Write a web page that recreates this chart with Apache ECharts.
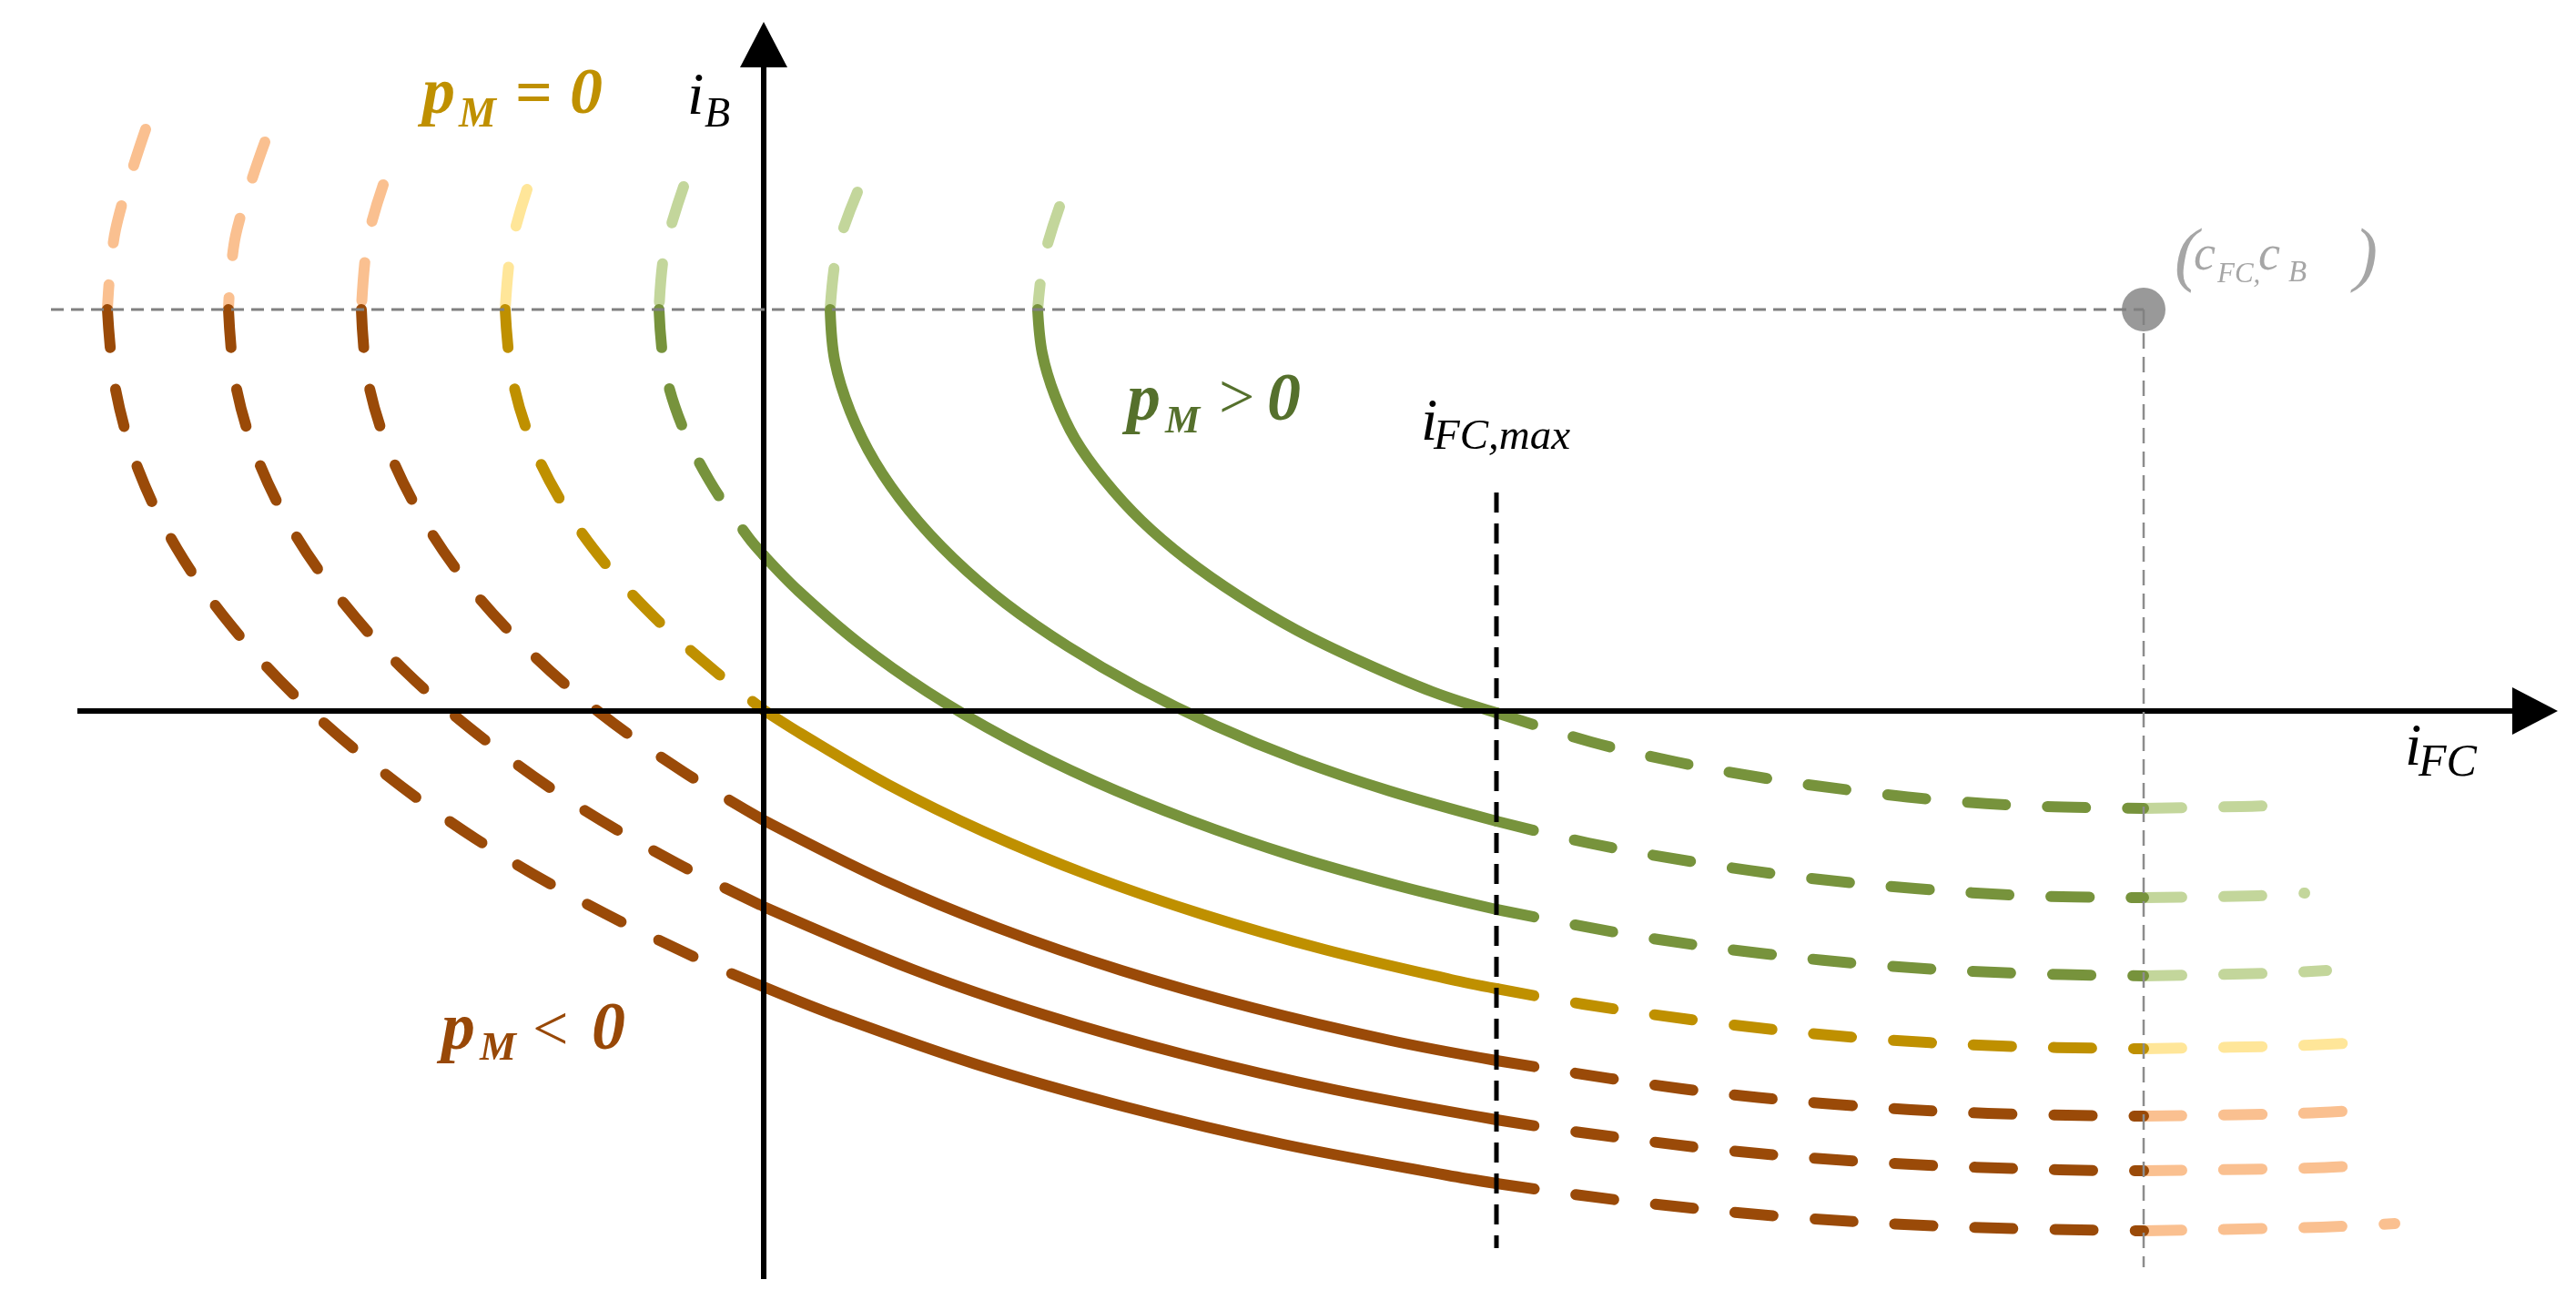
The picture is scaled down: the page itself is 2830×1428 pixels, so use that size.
<!DOCTYPE html>
<html>
<head>
<meta charset="utf-8">
<script src="https://cdn.jsdelivr.net/npm/echarts@6/dist/echarts.min.js"></script>
<style>
html,body{margin:0;padding:0;background:#ffffff;}
#chart{width:2830px;height:1428px;}
</style>
</head>
<body>
<div id="chart"></div>
<script>
// ---- values (x = i_FC, y = i_B, arbitrary units) ----
const cFC = 1516;          // centre i_FC
const cB = 441;            // centre i_B
const iFCmax = 805;        // i_FC,max
const xRange = [-839, 1991];
const yRange = [-647, 781];
const xAxisEnds = [-754, 1946];
const yAxisEnds = [-624, 732];
const refLineLeft = -783;     // left end of dashed i_B = c_B line
const refLineBottom = -611;   // bottom end of dashed i_FC = c_FC line
const iFCmaxLine = [240, -590];

// p_M > 0 curves
const curvePos3 = [[325,554],[308,498],[301,441],[306,393],[320,346],[342,299],[374,254],[415,209],[464,167],[521,127],[585,89],[657,54],[735,21],[805,-2],[909,-34],[1003,-56],[1101,-74],[1202,-88],[1305,-99],[1410,-105],[1516,-107],[1622,-105],[1655,-104]];
const curvePos2 = [[103,570],[81,508],[73,441],[78,385],[95,329],[122,274],[160,220],[208,168],[266,118],[334,71],[411,26],[496,-16],[588,-54],[688,-88],[805,-121],[906,-145],[1023,-166],[1143,-183],[1265,-195],[1390,-203],[1516,-205],[1642,-203],[1693,-200]];
const curvePos1 = [[-88,576],[-109,505],[-115,441],[-109,377],[-90,314],[-59,252],[-17,191],[0,171],[38,132],[104,75],[180,21],[267,-30],[363,-77],[468,-120],[581,-159],[701,-193],[805,-218],[958,-247],[1094,-266],[1233,-280],[1374,-288],[1516,-291],[1658,-288],[1717,-285]];
// p_M = 0 curve
const curveZero = [[-260,573],[-277,512],[-284,441],[-277,370],[-257,300],[-223,231],[-175,163],[-115,98],[-43,35],[0,1],[41,-25],[137,-81],[243,-133],[359,-181],[484,-224],[616,-262],[755,-295],[805,-305],[900,-322],[1050,-343],[1204,-359],[1359,-368],[1516,-371],[1673,-368],[1738,-365]];
// p_M < 0 curves
const curveNeg1 = [[-418,578],[-435,518],[-442,441],[-435,364],[-412,287],[-375,212],[-324,138],[-259,67],[-180,-2],[-88,-67],[0,-120],[132,-186],[257,-238],[393,-285],[537,-326],[689,-362],[805,-384],[1009,-415],[1176,-432],[1345,-442],[1516,-445],[1687,-442],[1761,-438]];
const curveNeg2 = [[-548,625],[-580,523],[-588,441],[-580,358],[-556,277],[-516,196],[-461,118],[-391,41],[-306,-32],[-208,-102],[-96,-167],[0,-215],[164,-284],[309,-334],[464,-378],[627,-416],[805,-449],[883,-461],[1061,-483],[1241,-497],[1424,-504],[1516,-505],[1700,-502],[1774,-498]];
const curveNeg3 = [[-679,639],[-712,529],[-721,441],[-712,353],[-687,265],[-645,179],[-586,95],[-511,13],[-421,-65],[-317,-140],[-198,-210],[-66,-275],[0,-303],[78,-334],[233,-388],[398,-435],[571,-476],[751,-510],[805,-519],[937,-537],[1128,-556],[1321,-567],[1516,-571],[1711,-567],[1792,-563]];

// ---- styling ----
const palette = {
  pos:  {dark:'#77933C', light:'#C3D69B'},
  zero: {dark:'#BF9000', light:'#FFE699'},
  neg:  {dark:'#9A4A08', light:'#FAC090'}
};
const curves = [
  {pts: curveNeg3, fam: 'neg'},
  {pts: curveNeg2, fam: 'neg'},
  {pts: curveNeg1, fam: 'neg'},
  {pts: curveZero, fam: 'zero'},
  {pts: curvePos1, fam: 'pos'},
  {pts: curvePos2, fam: 'pos'},
  {pts: curvePos3, fam: 'pos'}
];
const CURVE_W = 12;
const DASH = [42, 46];

function segClass(a, b) {
  const mx = (a[0] + b[0]) / 2, my = (a[1] + b[1]) / 2;
  if (my > cB || mx > cFC) return 'light';
  if (mx >= 0 && mx <= iFCmax) return 'solid';
  return 'dash';
}

const series = [];
curves.forEach(function (c) {
  const pts = c.pts;
  let cur = null;
  const segs = [];
  for (let i = 0; i < pts.length - 1; i++) {
    const k = segClass(pts[i], pts[i + 1]);
    if (!cur || cur.k !== k) {
      cur = {k: k, data: [pts[i]]};
      segs.push(cur);
    }
    cur.data.push(pts[i + 1]);
  }
  segs.forEach(function (s) {
    const col = s.k === 'light' ? palette[c.fam].light : palette[c.fam].dark;
    series.push({
      type: 'line',
      data: s.data,
      showSymbol: false,
      symbol: 'none',
      smooth: 0.35,
      silent: true,
      z: s.k === 'light' ? 2 : 3,
      lineStyle: {color: col, width: CURVE_W, type: s.k === 'solid' ? 'solid' : DASH, cap: 'round', join: 'round'}
    });
  });
});

// reference dashed lines
series.push({
  type: 'line', data: [[refLineLeft, cB], [cFC, cB]], showSymbol: false, symbol: 'none', silent: true, z: 6,
  lineStyle: {color: '#808080', width: 3, type: [14, 8]}
});
series.push({
  type: 'line', data: [[cFC, cB], [cFC, refLineBottom]], showSymbol: false, symbol: 'none', silent: true, z: 6,
  lineStyle: {color: '#8C8C8C', width: 2.5, type: [17, 9]}
});
series.push({
  type: 'line', data: [[iFCmax, iFCmaxLine[0]], [iFCmax, iFCmaxLine[1]]], showSymbol: false, symbol: 'none', silent: true, z: 7,
  lineStyle: {color: '#000000', width: 5, type: [22, 12]}
});
// axes with arrow heads
series.push({
  type: 'line', data: [[xAxisEnds[0], 0], [xAxisEnds[1], 0]], showSymbol: false, symbol: 'none', silent: true, z: 8,
  lineStyle: {color: '#000', width: 6, opacity: 0},
  markLine: {
    silent: true, animation: false, symbol: ['none', 'triangle'], symbolSize: [52, 50],
    label: {show: false}, emphasis: {disabled: true},
    lineStyle: {color: '#000000', width: 6, type: 'solid'},
    data: [
      [{coord: [xAxisEnds[0], 0]}, {coord: [xAxisEnds[1], 0]}],
      [{coord: [0, yAxisEnds[0]]}, {coord: [0, yAxisEnds[1]]}]
    ]
  }
});
// centre point
series.push({
  type: 'scatter', data: [[cFC, cB]], symbol: 'circle', symbolSize: 48, silent: true, z: 9,
  itemStyle: {color: '#7F7F7F'}
});

// ---- text labels (math-style pieces) ----
const SERIF = '"Liberation Serif", "Times New Roman", serif';
function piece(t, x, baseline, size, color, weight, style, midY) {
  const y = (midY !== undefined) ? midY : baseline - 0.34 * size;
  return {
    type: 'text', x: x, y: y, z: 50, silent: true,
    style: {
      text: t, fill: color,
      font: style + ' ' + weight + ' ' + size + 'px ' + SERIF,
      align: 'left', verticalAlign: 'middle',
      textAlign: 'left', textVerticalAlign: 'middle'
    }
  };
}
const gold = '#BF9000', olive = '#55702C', brown = '#984807', grey = '#A6A6A6';
const texts = [
  // p_M = 0
  piece('p', 464, 130, 72, gold, 'bold', 'italic'),
  piece('M', 504, 143, 46, gold, 'bold', 'italic'),
  piece('=', 566, 0, 72, gold, 'bold', 'normal', 106),
  piece('0', 626, 130, 72, gold, 'bold', 'italic'),
  // p_M > 0
  piece('p', 1238, 467, 74, olive, 'bold', 'italic'),
  piece('M', 1280, 479, 43, olive, 'bold', 'italic'),
  piece('>', 1339, 0, 70, olive, 'normal', 'normal', 441),
  piece('0', 1392, 467, 74, olive, 'bold', 'italic'),
  // p_M < 0
  piece('p', 485, 1158, 74, brown, 'bold', 'italic'),
  piece('M', 527, 1168, 45, brown, 'bold', 'italic'),
  piece('<', 585, 0, 70, brown, 'normal', 'normal', 1135),
  piece('0', 650, 1158, 74, brown, 'bold', 'italic'),
  // i_B
  piece('i', 755, 130, 66, '#000', 'normal', 'italic'),
  piece('B', 774, 143, 46, '#000', 'normal', 'italic'),
  // i_FC,max
  piece('i', 1561, 488, 66, '#000', 'normal', 'italic'),
  piece('FC,max', 1575, 497, 47, '#000', 'normal', 'italic'),
  // i_FC
  piece('i', 2642, 845, 66, '#000', 'normal', 'italic'),
  piece('FC', 2657, 856, 50, '#000', 'normal', 'italic'),
  // (c_FC, c_B)
  piece('(', 2389, 0, 78, grey, 'normal', 'italic', 284),
  piece('c', 2410, 300, 54, grey, 'normal', 'italic'),
  piece('FC,', 2436, 312, 31, grey, 'normal', 'italic'),
  piece('c', 2481, 300, 54, grey, 'normal', 'italic'),
  piece('B', 2514, 312, 33, grey, 'normal', 'italic'),
  piece(')', 2586, 0, 78, grey, 'normal', 'italic', 284)
];

const chart = echarts.init(document.getElementById('chart'), null, {renderer: 'canvas'});
chart.setOption({
  backgroundColor: '#ffffff',
  animation: false,
  grid: {left: 0, right: 0, top: 0, bottom: 0, containLabel: false},
  xAxis: {type: 'value', min: xRange[0], max: xRange[1], show: false},
  yAxis: {type: 'value', min: yRange[0], max: yRange[1], show: false},
  series: series,
  graphic: {elements: texts}
});
</script>
</body>
</html>
